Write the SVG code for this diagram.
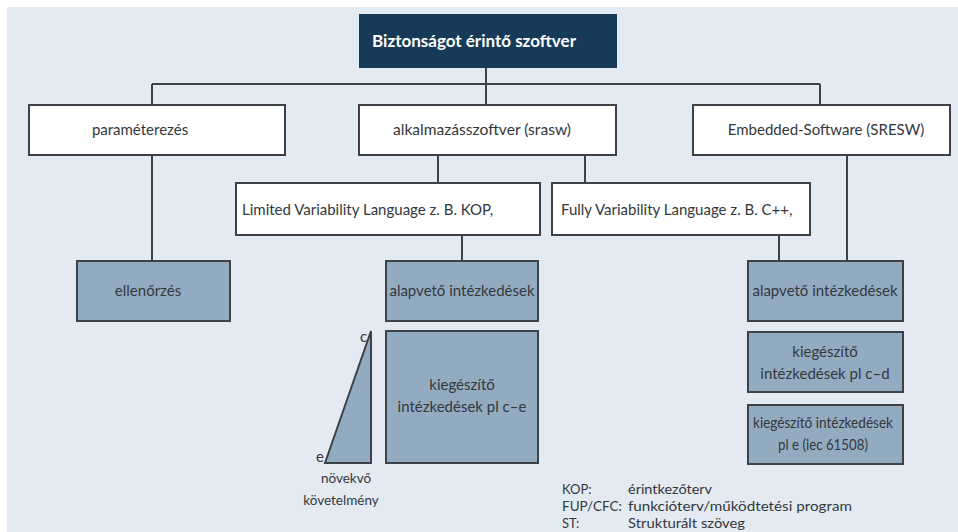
<svg xmlns="http://www.w3.org/2000/svg" width="958" height="532" viewBox="0 0 958 532">
  <style>
    text { font-family: Lato, "Open Sans", "Liberation Sans", sans-serif; font-size: 15px; fill: #33383d; }
    .title { fill: #ffffff; font-weight: bold; font-size: 17px; }
    .c { text-anchor: middle; }
    .small { font-size: 13.5px; }
    .key { font-size: 13px; }
    .white { fill: #ffffff; stroke: #3c4247; stroke-width: 2; }
    .blue { fill: #93abc1; stroke: #3c4247; stroke-width: 2; }
    .line { fill: none; stroke: #3c4247; stroke-width: 2; }
  </style>
  <rect x="0" y="0" width="958" height="532" fill="#ffffff"/>
  <rect x="7" y="7" width="951" height="525" fill="#e3eaf2"/>

  <!-- tree connectors -->
  <g id="connectors" class="line">
    <path d="M152,84 H820 M152,84 V105 M820,84 V105 M486,68 V105"/>
    <path d="M152,155 V261"/>
    <path d="M438,155 V183 M585,155 V183"/>
    <path d="M462,235 V261"/>
    <path d="M779,235 V261"/>
    <path d="M847,155 V261"/>
  </g>

  <g id="root">
    <rect x="359" y="14" width="258" height="54" fill="#173a58"/>
    <text class="title c" x="474" y="47">Biztonságot érintő szoftver</text>
  </g>

  <g id="parameterezes">
    <rect class="white" x="29" y="105" width="256" height="50"/>
    <text class="c" x="140" y="135">paraméterezés</text>
  </g>
  <g id="alkalmazasszoftver">
    <rect class="white" x="359" y="105" width="257" height="50"/>
    <text class="c" x="482" y="135" textLength="178" lengthAdjust="spacingAndGlyphs">alkalmazásszoftver (srasw)</text>
  </g>
  <g id="embedded">
    <rect class="white" x="693" y="105" width="257" height="50"/>
    <text class="c" x="826" y="135">Embedded-Software (SRESW)</text>
  </g>

  <g id="limited">
    <rect class="white" x="236" y="183" width="304" height="52"/>
    <text x="242" y="215">Limited Variability Language z. B. KOP,</text>
  </g>
  <g id="fully">
    <rect class="white" x="552" y="183" width="258" height="52"/>
    <text x="561" y="215">Fully Variability Language z. B. C++,</text>
  </g>

  <g id="ellenorzes">
    <rect class="blue" x="77" y="261" width="153" height="60"/>
    <text class="c" x="148" y="296">ellenőrzés</text>
  </g>

  <g id="alapveto-1">
    <rect class="blue" x="386" y="261" width="152" height="60"/>
    <text class="c" x="462" y="296">alapvető intézkedések</text>
  </g>
  <g id="kiegeszito-ce">
    <rect class="blue" x="386" y="331" width="152" height="132"/>
    <text class="c" x="462" y="390">kiegészítő</text>
    <text class="c" x="462" y="412">intézkedések pl c–e</text>
  </g>

  <g id="kovetelmeny">
    <polygon class="blue" points="325,463 371,331 371,463" stroke-width="1.5"/>
    <text x="360" y="342" font-size="14">c</text>
    <text x="316" y="462" font-size="14">e</text>
    <text class="c small" x="346" y="483">növekvő</text>
    <text class="c small" x="341" y="505">követelmény</text>
  </g>

  <g id="alapveto-2">
    <rect class="blue" x="748" y="261" width="155" height="60"/>
    <text class="c" x="825" y="296">alapvető intézkedések</text>
  </g>
  <g id="kiegeszito-cd">
    <rect class="blue" x="748" y="332" width="155" height="60"/>
    <text class="c" x="825" y="357">kiegészítő</text>
    <text class="c" x="825" y="379">intézkedések pl c–d</text>
  </g>
  <g id="kiegeszito-e">
    <rect class="blue" x="748" y="405" width="155" height="59"/>
    <text class="c" x="823" y="428" textLength="140" lengthAdjust="spacingAndGlyphs">kiegészítő intézkedések</text>
    <text class="c" x="823" y="450" textLength="90" lengthAdjust="spacingAndGlyphs">pl e (iec 61508)</text>
  </g>

  <!-- abbreviation key -->
  <g id="legend">
    <text class="key" x="562" y="494">KOP:</text>
    <text class="key" x="628" y="494" textLength="84" lengthAdjust="spacingAndGlyphs">érintkezőterv</text>
    <text class="key" x="562" y="511" textLength="60" lengthAdjust="spacingAndGlyphs">FUP/CFC:</text>
    <text class="key" x="628" y="511" textLength="224" lengthAdjust="spacingAndGlyphs">funkcióterv/működtetési program</text>
    <text class="key" x="562" y="528">ST:</text>
    <text class="key" x="628" y="528" textLength="117" lengthAdjust="spacingAndGlyphs">Strukturált szöveg</text>
  </g>
</svg>
